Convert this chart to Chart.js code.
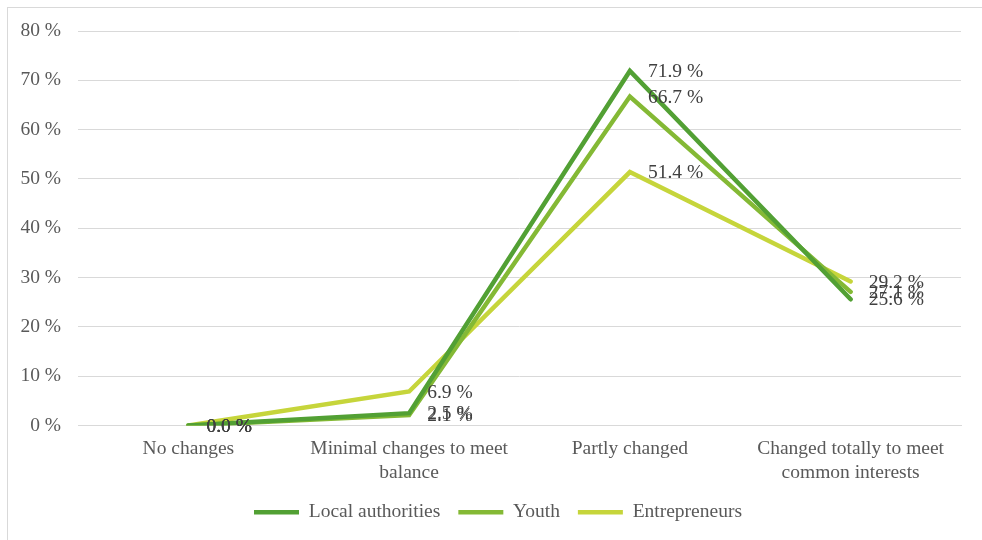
<!DOCTYPE html>
<html>
<head>
<meta charset="utf-8">
<script src="https://cdn.jsdelivr.net/npm/chart.js@4/dist/chart.umd.min.js"></script>
<style>
  html, body { margin: 0; padding: 0; background: #fff; }
  #wrap { position: relative; width: 982px; height: 540px; }
</style>
</head>
<body>
<div id="wrap"><canvas id="grafico" width="982" height="540"></canvas></div>
<script>
const categorias = [
  "No changes",
  ["Minimal changes to meet", "balance"],
  "Partly changed",
  ["Changed totally to meet", "common interests"],
];
const localAuthorities = [0.0, 2.5, 71.9, 25.6];
const youth = [0.0, 2.1, 66.7, 27.1];
const entrepreneurs = [0.0, 6.9, 51.4, 29.2];
const yTicks = [0, 10, 20, 30, 40, 50, 60, 70, 80];

const fuente = "'Liberation Serif', 'Times New Roman', serif";
const tam = 19.5;

// marco gris alrededor del grafico, y leyenda algo desplazada a la derecha
const marco = {
  id: "marco",
  afterLayout(chart) {
    chart.legend.left = 35;
  },
  beforeDraw(chart) {
    const ctx = chart.ctx;
    ctx.save();
    ctx.strokeStyle = "#d9d9d9";
    ctx.lineWidth = 1;
    ctx.strokeRect(7.5, 7.5, 990, 560);
    ctx.restore();
  },
};

// etiquetas de valor a la derecha de cada punto
const etiquetas = {
  id: "etiquetas",
  afterDatasetsDraw(chart) {
    const ctx = chart.ctx;
    ctx.save();
    ctx.font = tam + "px " + fuente;
    ctx.fillStyle = "#404040";
    ctx.textAlign = "left";
    ctx.textBaseline = "middle";
    chart.data.datasets.forEach(function (ds, i) {
      const meta = chart.getDatasetMeta(i);
      meta.data.forEach(function (pt, j) {
        ctx.fillText(ds.data[j].toFixed(1) + " %", pt.x + 18, pt.y + 1);
      });
    });
    ctx.restore();
  },
};

const ctx = document.getElementById("grafico").getContext("2d");

new Chart(ctx, {
  type: "line",
  data: {
    labels: categorias,
    datasets: [
      { label: "Local authorities", data: localAuthorities, borderColor: "#52a034", backgroundColor: "#52a034" },
      { label: "Youth", data: youth, borderColor: "#84b935", backgroundColor: "#84b935" },
      { label: "Entrepreneurs", data: entrepreneurs, borderColor: "#c6d53b", backgroundColor: "#c6d53b" },
    ].map(function (d) {
      return Object.assign(d, {
        borderWidth: 4.5,
        pointRadius: 0,
        pointHoverRadius: 0,
        tension: 0,
        fill: false,
        pointStyle: "line",
        borderCapStyle: "round",
      });
    }),
  },
  options: {
    responsive: false,
    animation: false,
    layout: { padding: { top: 31, right: 21, left: 0, bottom: 8 } },
    plugins: {
      legend: {
        position: "bottom",
        labels: {
          usePointStyle: true,
          pointStyleWidth: 45,
          boxHeight: 17,
          padding: 18,
          color: "#595959",
          font: { family: fuente, size: tam },
        },
      },
      tooltip: { enabled: false },
    },
    scales: {
      x: {
        offset: true,
        grid: { display: false, drawTicks: false },
        border: { display: true, color: "#d9d9d9" },
        ticks: {
          color: "#595959",
          font: { family: fuente, size: tam, lineHeight: 1.2 },
          maxRotation: 0,
          autoSkip: false,
          padding: 12,
        },
        afterFit(scale) { scale.height = 59; },
      },
      y: {
        min: 0,
        max: 80,
        afterBuildTicks(scale) { scale.ticks = yTicks.map(function (v) { return { value: v }; }); },
        grid: { color: "#d9d9d9", drawTicks: false },
        border: { display: false },
        ticks: {
          color: "#595959",
          font: { family: fuente, size: tam },
          padding: 17,
          callback: function (v) { return v + " %"; },
        },
        afterFit(scale) { scale.width = 78; },
      },
    },
  },
  plugins: [marco, etiquetas],
});
</script>
</body>
</html>
